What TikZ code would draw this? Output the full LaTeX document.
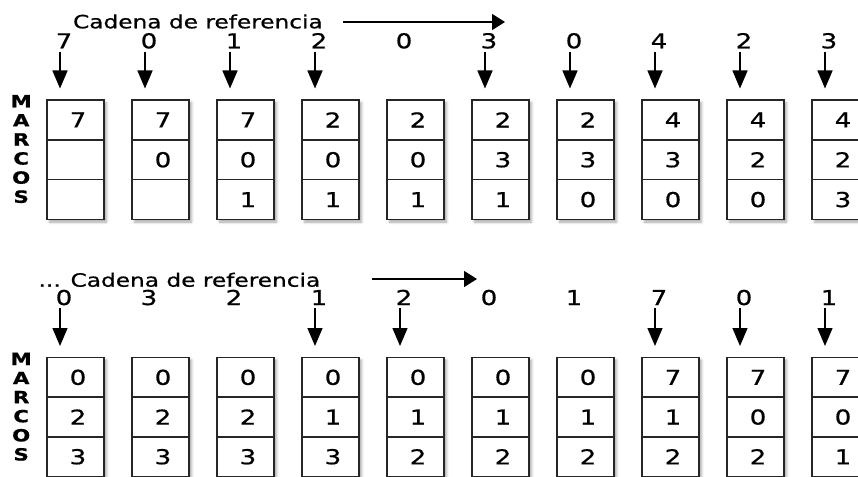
\documentclass[tikz,border=0pt]{standalone}
\usepackage{fontspec}
\setmainfont{DejaVu Sans}[FakeStretch=1.27,FakeBold=0.8]
\usetikzlibrary{arrows.meta,shadows.blur}
\begin{document}
\begin{tikzpicture}[x=1pt,y=-1pt,
  ttl/.style={inner sep=0pt,anchor=base east,font=\fontsize{18.3}{20}\selectfont},
  lbl/.style={inner sep=0pt,anchor=base,font=\fontsize{20.5}{22}\selectfont},
  cellbox/.style={draw=black!85,line width=1.5pt,fill=white,minimum width=57pt,minimum height=#1,inner sep=0pt,font=\fontsize{20.5}{22}\selectfont},
  framebox/.style={draw=black!85,line width=1.5pt,fill=white,minimum width=57pt,minimum height=#1,inner sep=0pt,
    blur shadow={shadow xshift=2.5pt,shadow yshift=-2.5pt,shadow blur radius=2.5pt,shadow opacity=35}},
  darrow/.style={line width=1.4pt,-{Triangle[length=18pt,width=15pt]}},
  harrow/.style={line width=1.4pt,-{Triangle[length=13pt,width=16pt]}},
  marc/.style={inner sep=0pt,anchor=base,font=\bfseries\fontsize{16.8}{18}\selectfont}]

\useasboundingbox (0,0) rectangle (858,476);
\clip (0,0) rectangle (858,476);

% ---------- top half ----------
\node[ttl] (tt) at (323,28.3) {Cadena de referencia};
\coordinate (ha1) at (343,22);
\coordinate (hb1) at (505,22);
\draw[harrow] (ha1) -- (hb1);

\foreach \v [count=\k from 0] in {7,0,1,2,0,3,0,4,2,3}
  \node[lbl] (tl\k) at ({64+85*\k},48.3) {\v};

\foreach \k in {0,1,2,3,5,6,7,8,9}{
  \coordinate (ts\k) at ({60+85*\k},51.7);
  \coordinate (te\k) at ({60+85*\k},88.5);
  \draw[darrow] (ts\k) -- (te\k);
}

\foreach \L [count=\i from 0] in {M,A,R,C,O,S}
  \node[marc] (tm\i) at (21.2,{107.3+19.1*\i}) {\L};

\foreach \a/\b/\c [count=\k from 0] in {7/{}/{},7/0/{},7/0/1,2/0/1,2/0/1,2/3/1,2/3/0,4/3/0,4/2/0,4/2/3}{
  \pgfmathsetmacro\cx{75.5+85*\k}
  \node[framebox=119.5pt] (tb\k) at (\cx,159.75) {};
  \node[cellbox=39.83pt] (tb\k-a) at (\cx,119.92) {\kern5pt\a};
  \node[cellbox=39.83pt] (tb\k-b) at (\cx,159.75) {\kern5pt\b};
  \node[cellbox=39.83pt] (tb\k-c) at (\cx,199.58) {\kern5pt\c};
}

% ---------- bottom half ----------
\node[ttl] (bt) at (320.5,286.7) {... Cadena de referencia};
\coordinate (ha2) at (372,279);
\coordinate (hb2) at (477,279);
\draw[harrow] (ha2) -- (hb2);

\foreach \v [count=\k from 0] in {0,3,2,1,2,0,1,7,0,1}
  \node[lbl] (bl\k) at ({64+85*\k},305) {\v};

\foreach \k in {0,3,4,7,8,9}{
  \coordinate (bs\k) at ({60+85*\k},308.3);
  \coordinate (be\k) at ({60+85*\k},346);
  \draw[darrow] (bs\k) -- (be\k);
}

\foreach \L [count=\i from 0] in {M,A,R,C,O,S}
  \node[marc] (bm\i) at (21.2,{365+19.1*\i}) {\L};

\foreach \a/\b/\c [count=\k from 0] in {0/2/3,0/2/3,0/2/3,0/1/3,0/1/2,0/1/2,0/1/2,7/1/2,7/0/2,7/0/1}{
  \pgfmathsetmacro\cx{75.5+85*\k}
  \node[framebox=119.1pt] (bb\k) at (\cx,417.05) {};
  \node[cellbox=39.7pt] (bb\k-a) at (\cx,377.35) {\kern5pt\a};
  \node[cellbox=39.7pt] (bb\k-b) at (\cx,417.05) {\kern5pt\b};
  \node[cellbox=39.7pt] (bb\k-c) at (\cx,456.75) {\kern5pt\c};
}
\end{tikzpicture}
\end{document}
